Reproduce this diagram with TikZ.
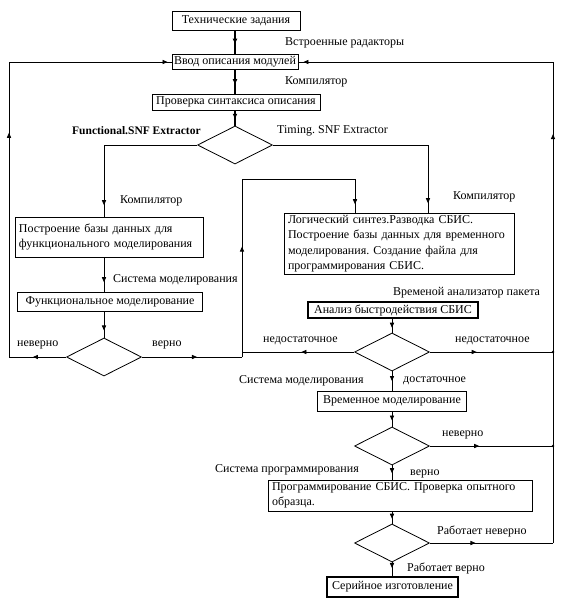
\documentclass[tikz,border=0pt]{standalone}
\usepackage{fontspec}
\setmainfont{Liberation Serif}
\usetikzlibrary{arrows.meta,decorations.markings,shapes.geometric}
\frenchspacing

\tikzset{
  box/.style={draw, line width=0.8pt, inner sep=0pt, font=\fontsize{12}{15.5}\selectfont, anchor=center},
  boxb/.style={box, line width=1.4pt},
  mbox/.style={box, align=left, inner xsep=4pt, text width=#1},
  dia/.style={draw, diamond, inner sep=0pt, minimum width=75pt, minimum height=38pt, line width=0.8pt},
  lbl/.style={font=\fontsize{12}{13}\selectfont, inner sep=0pt, anchor=west},
  ln/.style={line width=0.8pt},
  trunk/.style={line width=1.6pt},
  mk/.style={decoration={markings, mark=at position #1 with {\arrow{Triangle[length=5pt,width=4.2pt]}}}, postaction=decorate},
  dot/.style={circle, fill, inner sep=0pt, minimum size=2.6pt},
}

\begin{document}
\begin{tikzpicture}[x=1pt, y=-1pt]
\useasboundingbox (0,0) rectangle (564,611);

% boxes
\node[box, minimum width=128pt, minimum height=19pt] (b1) at (236,21) {Технические задания};
\node[box, minimum width=126pt, minimum height=15pt] (b2) at (235,62) {Ввод описания модулей};
\node[box, minimum width=168pt, minimum height=16pt] (b3) at (236,102) {Проверка синтаксиса описания};
\node[dia] (d1) at (235,145) {};

\node[mbox=180pt, minimum height=40pt] (b4) at (109,237) {Построение базы данных для\\функционального моделирования};
\node[boxb, minimum width=185pt, minimum height=19pt] (b6) at (110,302) {Функциональное моделирование};
\node[dia] (d2) at (104,357) {};

\node[mbox=222pt, minimum height=61pt] (b5) at (399,243.5) {Логический синтез.Разводка СБИС.\\Построение базы данных для временного\\моделирования. Создание файла для\\программирования СБИС.};
\node[boxb, minimum width=170pt, minimum height=16pt] (b7) at (393,310) {Анализ быстродействия СБИС};
\node[dia] (d3) at (392,352) {};
\node[box, minimum width=149pt, minimum height=20pt] (b8) at (392,401) {Временное моделирование};
\node[dia] (d4) at (392,446) {};
\node[mbox=256pt, minimum height=31pt] (b9) at (400,495.5) {Программирование СБИС. Проверка опытного\\образца.};
\node[dia] (d5) at (392,543) {};
\node[boxb, minimum width=131pt, minimum height=20pt] (b10) at (392.5,587) {Серийное изготовление};

% coordinates
\coordinate (c1) at (104,145);
\coordinate (c2) at (428,145);
\coordinate (c3) at (9,357);
\coordinate (c4) at (9,62);
\coordinate (c5) at (242,357);
\coordinate (c6) at (242,179);
\coordinate (c7) at (355,179);
\coordinate (c8) at (242,352);
\coordinate (c9) at (553,352);
\coordinate (c10) at (553,446);
\coordinate (c11) at (553,543);
\coordinate (c12) at (553,62);

% trunk
\draw[trunk, mk=0.55] (b1.south -| b2.north) -- (b2.north);
\draw[trunk, mk=0.6] (b2.south) -- (b2.south |- b3.north);
\draw[trunk, mk=0.55] (d1.north |- b3.south) -- (d1.north);

% left branch
\draw[ln] (d1.west) -- (c1);
\draw[ln, mk=0.84] (c1) -- (c1 |- b4.north);
\draw[ln, mk=0.72] (c1 |- b4.south) -- (c1 |- b6.north);
\draw[ln, mk=0.72] (c1 |- b6.south) -- (d2.north);
\draw[ln, mk=0.58] (d2.west) -- (c3);
\draw[ln, mk=0.76] (c3) -- (c4);
\draw[ln, mk=0.975] (c4) -- (b2.west);
\draw[ln, mk=0.55] (d2.east) -- (c5);
\draw[ln, mk=0.62] (c5) -- (c6);
\draw[ln] (c6) -- (c7);
\draw[ln, mk=0.75] (c7) -- (c7 |- b5.north);

% right branch
\draw[ln] (d1.east) -- (c2);
\draw[ln, mk=0.86] (c2) -- (c2 |- b5.north);
\draw[ln, mk=0.78] (b7.north -| d3.north |- b5.south) -- (b7.north -| d3.north);
\draw[ln, mk=0.65] (d3.north |- b7.south) -- (d3.north);
\draw[ln, mk=0.47] (d3.west) -- (c8);
\draw[ln, mk=0.38] (d3.east) -- (c9);
\draw[ln, mk=0.5] (d3.south) -- (d3.south |- b8.north);
\draw[ln, mk=0.6] (d4.north |- b8.south) -- (d4.north);
\draw[ln, mk=0.4] (d4.east) -- (c10);
\draw[ln, mk=0.55] (d4.south) -- (d4.south |- b9.north);
\draw[ln, mk=0.6] (d5.north |- b9.south) -- (d5.north);
\draw[ln, mk=0.37] (d5.east) -- (c11);
\draw[ln, mk=0.85] (c11) -- (c12);
\draw[ln, mk=0.98] (c12) -- (b2.east);
\draw[ln, mk=0.4] (d5.south) -- (d5.south |- b10.north);

\node[dot] (j1) at (c9) {};
\node[dot] (j2) at (c10) {};

% labels
\node[lbl] (l1) at (285,43) {Встроенные радакторы};
\node[lbl] (l2) at (285,82) {Компилятор};
\node[lbl, font=\fontsize{11.5}{13}\selectfont\bfseries] (l3) at (72,131) {Functional.SNF Extractor};
\node[lbl] (l4) at (277,131) {Timing. SNF Extractor};
\node[lbl] (l5) at (120,201) {Компилятор};
\node[lbl] (l6) at (453,197) {Компилятор};
\node[lbl] (l7) at (113,280) {Система моделирования};
\node[lbl] (l8) at (17,345) {неверно};
\node[lbl] (l9) at (152,345) {верно};
\node[lbl] (l10) at (393,293) {Временой анализатор пакета};
\node[lbl] (l11) at (263,341) {недостаточное};
\node[lbl] (l12) at (455,341) {недостаточное};
\node[lbl] (l13) at (239,381) {Система моделирования};
\node[lbl] (l14) at (403,381) {достаточное};
\node[lbl] (l15) at (442,435) {неверно};
\node[lbl] (l16) at (215,470) {Система программирования};
\node[lbl] (l17) at (410,474) {верно};
\node[lbl] (l18) at (437,531) {Работает неверно};
\node[lbl] (l19) at (407,568) {Работает верно};
\end{tikzpicture}
\end{document}
